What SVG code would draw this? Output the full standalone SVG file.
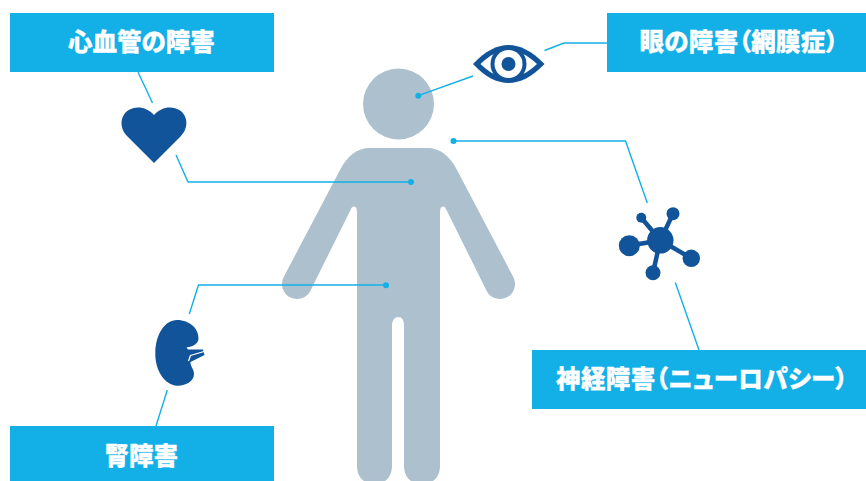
<svg xmlns="http://www.w3.org/2000/svg" width="866" height="481" viewBox="0 0 866 481">
<style>
.box{fill:#13b0e8}
.lbl{font-family:"Noto Sans CJK JP","Noto Sans CJK SC",sans-serif;font-weight:900;font-size:24.5px;fill:#fff;stroke:#fff;stroke-width:.3;font-feature-settings:"palt"}
.ln{fill:none;stroke:#13b0e8;stroke-width:1.4}
.dot{fill:#13b0e8}
.ic{fill:#125499}
.bd{fill:#adc0ce}
.w{fill:#fff}
</style>
<rect width="866" height="481" fill="#fff"/>
<g id="person">
<circle class="bd" cx="398.5" cy="104" r="35.5"/>
<path class="bd" d="M370 148H427C440 148 450 156 457 170L513.3 277A15 15 0 0 1 486.7 291L446 209C444 205 440 206 440 212V466C440 476 434 484 422 484C410 484 404 476 404 466V326C404 320 402 317 398.5 317C395 317 392 320 392 326V466C392 476 386 484 374.5 484C363 484 357 476 357 466V212C357 206 353 205 351 209L310.3 291A15 15 0 0 1 283.7 277L340 170C347 156 357 148 370 148Z"/>
</g>
<g id="connectors">
<path class="ln" d="M138 72L152.5 103"/>
<path class="ln" d="M176 155L188 182H411"/>
<path class="ln" d="M473 76L418.3 95.7"/>
<path class="ln" d="M544.5 50.5L564 43H607"/>
<path class="ln" d="M453.5 141H625.5L647.3 203"/>
<path class="ln" d="M675.3 282.5L699 350"/>
<path class="ln" d="M189.3 314L198.5 285H386"/>
<path class="ln" d="M167.3 390L156 426"/>
<circle class="dot" cx="411" cy="182" r="3"/>
<circle class="dot" cx="418.3" cy="95.7" r="3"/>
<circle class="dot" cx="453.5" cy="141" r="3"/>
<circle class="dot" cx="386" cy="285.3" r="3"/>
</g>
<g id="heart-disease">
<rect class="box" x="10" y="13" width="264" height="59"/>
<text class="lbl" x="68" y="51">心血管の障害</text>
<path class="ic" d="M154 163L127.5 136.5C119 128 120 116 128 110.5C136 105 147 107 154 115C161 107 172 105 180 110.5C188 116 189 128 180.5 136.5Z"/>
</g>
<g id="eye-disease">
<rect class="box" x="607" y="13" width="259" height="59"/>
<text class="lbl" x="639.500" y="51" letter-spacing=".35">眼の障害（網膜症）</text>
<path class="ic" d="M473 64C485 51 497 45 508.5 45C520 45 532 51 544.500 64C532 77 520 83 508.5 83C497 83 485 77 473 64Z"/>
<path class="w" d="M480.5 64C490 54.5 499 50.5 508.5 50.5C518 50.5 527 54.5 537 64C527 73.5 518 77.5 508.5 77.5C499 77.5 490 73.5 480.5 64Z"/>
<circle class="ic" cx="508.5" cy="64" r="18"/>
<circle class="w" cx="508.5" cy="64" r="14"/>
<circle class="ic" cx="508.5" cy="64" r="7"/>
</g>
<g id="neuropathy">
<rect class="box" x="532" y="350" width="334" height="59"/>
<text class="lbl" x="556" y="388" letter-spacing=".4">神経障害（ニューロパシー）</text>
<path stroke="#125499" stroke-width="4.5" d="M660.3 240.3L629.3 245.7M660.3 240.3L641.3 217.7M660.3 240.3L673 213.7M660.3 240.3L691.3 258.3M660.3 240.3L653 272.7"/>
<circle class="ic" cx="660.3" cy="240.3" r="13.2"/>
<circle class="ic" cx="629.3" cy="245.7" r="10.5"/>
<circle class="ic" cx="641.3" cy="217.7" r="5"/>
<circle class="ic" cx="673" cy="213.7" r="6.5"/>
<circle class="ic" cx="691.3" cy="258.3" r="8.7"/>
<circle class="ic" cx="653" cy="272.7" r="7.5"/>
</g>
<g id="kidney-disease">
<rect class="box" x="10" y="426" width="264" height="55"/>
<text class="lbl" x="104.500" y="465">腎障害</text>
<path class="ic" d="M177 320C190 320 199 329 198.5 339C198 344 193 346.5 186.5 347.5L188 349.5L203 349.5L204.5 355L190.5 362C190 366 194 369 194 374C194 381 186 386 177 385.7C165 385 155 371 155.3 353C155.5 334 165 320 177 320Z"/>
<path fill="none" stroke="#fff" stroke-width="1.3" d="M188.5 361L190.5 355.5L204 351.5"/>
</g>
</svg>
